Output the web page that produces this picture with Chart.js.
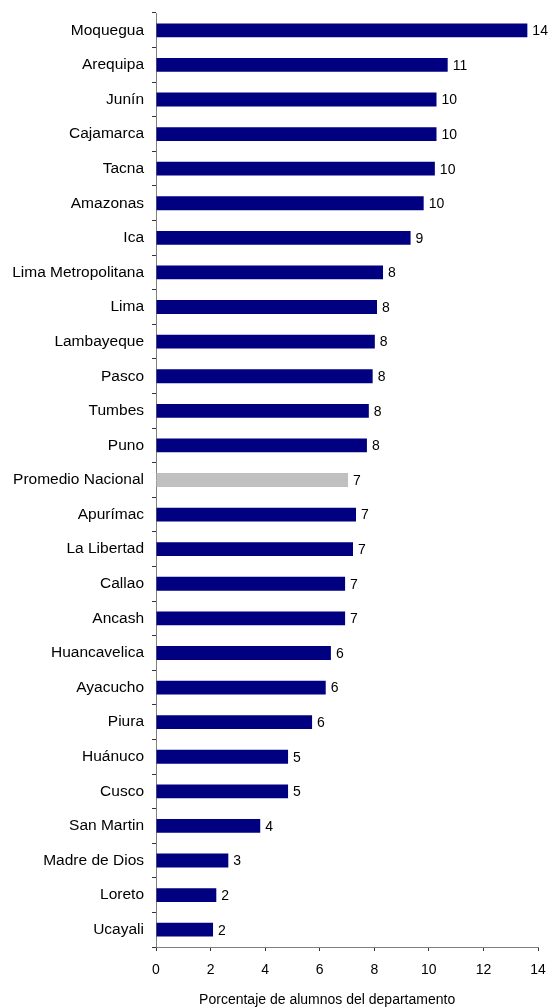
<!DOCTYPE html>
<html>
<head>
<meta charset="utf-8">
<script src="https://cdn.jsdelivr.net/npm/chart.js@4"></script>
<style>
  html, body { margin: 0; padding: 0; background: #fff; }
  #wrap { width: 548px; height: 1008px; position: relative; }
</style>
</head>
<body>
<div id="wrap"><canvas id="chart"></canvas></div>
<script>
// departments, top to bottom
const departamentos = [
    'Moquegua', 'Arequipa', 'Junín', 'Cajamarca', 'Tacna', 'Amazonas', 'Ica',
    'Lima Metropolitana', 'Lima', 'Lambayeque', 'Pasco', 'Tumbes', 'Puno',
    'Promedio Nacional', 'Apurímac', 'La Libertad', 'Callao', 'Ancash',
    'Huancavelica', 'Ayacucho', 'Piura', 'Huánuco', 'Cusco', 'San Martin',
    'Madre de Dios', 'Loreto', 'Ucayali'
]

// percent of students
const porcentaje = [
    13.61, 10.69, 10.28, 10.28, 10.22, 9.81, 9.33,
    8.32, 8.10, 8.02, 7.94, 7.80, 7.73,
    7.04, 7.33, 7.22, 6.93, 6.93,
    6.41, 6.22, 5.72, 4.84, 4.84, 3.82,
    2.65, 2.21, 2.09
]

const xTicks = [0, 2, 4, 6, 8, 10, 12, 14]
const xTitle = 'Porcentaje de alumnos del departamento'

const FONT = '"Liberation Sans", Arial, sans-serif'

// one bar is the national average, drawn in gray
let colores = departamentos.map((d) => d === 'Promedio Nacional' ? '#c0c0c0' : '#000080')

// value written at the end of each bar
const valueLabels = {
    id: 'valueLabels',
    afterDatasetsDraw(chart) {
        const ctx = chart.ctx
        const meta = chart.getDatasetMeta(0)
        ctx.save()
        ctx.font = '14px ' + FONT
        ctx.fillStyle = '#000'
        ctx.textAlign = 'left'
        ctx.textBaseline = 'middle'
        meta.data.forEach((bar, i) => {
            ctx.fillText(String(Math.round(porcentaje[i])), bar.x + 5, bar.y + 1)
        })
        ctx.restore()
    }
}

// axis title, sits a bit left of the plot centre like the original
const axisTitle = {
    id: 'axisTitle',
    afterDraw(chart) {
        const ctx = chart.ctx
        const area = chart.chartArea
        ctx.save()
        ctx.font = '14px ' + FONT
        ctx.fillStyle = '#000'
        ctx.textAlign = 'center'
        ctx.textBaseline = 'middle'
        ctx.fillText(xTitle, area.left + area.width * 0.448, 1000)
        ctx.restore()
    }
}

const myChart = new Chart(document.getElementById('chart'), {
    type: 'bar',
    data: {
        labels: departamentos,
        datasets: [{
            data: porcentaje,
            backgroundColor: colores,
            borderWidth: 0,
            barPercentage: 0.4,
            categoryPercentage: 1
        }]
    },
    options: {
        indexAxis: 'y',
        responsive: true,
        maintainAspectRatio: false,
        animation: false,
        layout: {
            padding: { top: 13, right: 10, left: 0, bottom: 0 }
        },
        scales: {
            x: {
                min: 0,
                max: 14,
                afterBuildTicks: (scale) => { scale.ticks = xTicks.map((v) => ({ value: v })) },
                afterFit: (scale) => {
                    scale.height = 61
                    scale.paddingLeft = 0
                    scale.paddingRight = 0
                },
                grid: {
                    drawOnChartArea: false,
                    tickLength: 4,
                    color: '#333'
                },
                border: { color: '#808080' },
                ticks: {
                    padding: 11,
                    color: '#000',
                    font: { family: FONT, size: 14 }
                }
            },
            y: {
                afterFit: (scale) => {
                    scale.width = 156
                    scale.paddingTop = 0
                    scale.paddingBottom = 0
                },
                grid: {
                    offset: true,
                    drawOnChartArea: false,
                    tickLength: 4,
                    color: '#333'
                },
                border: { color: '#808080' },
                ticks: {
                    padding: 8,
                    color: '#000',
                    autoSkip: false,
                    font: { family: FONT, size: 15.5 }
                }
            }
        },
        plugins: {
            legend: { display: false },
            tooltip: { enabled: false }
        }
    },
    plugins: [valueLabels, axisTitle]
})
</script>
</body>
</html>
